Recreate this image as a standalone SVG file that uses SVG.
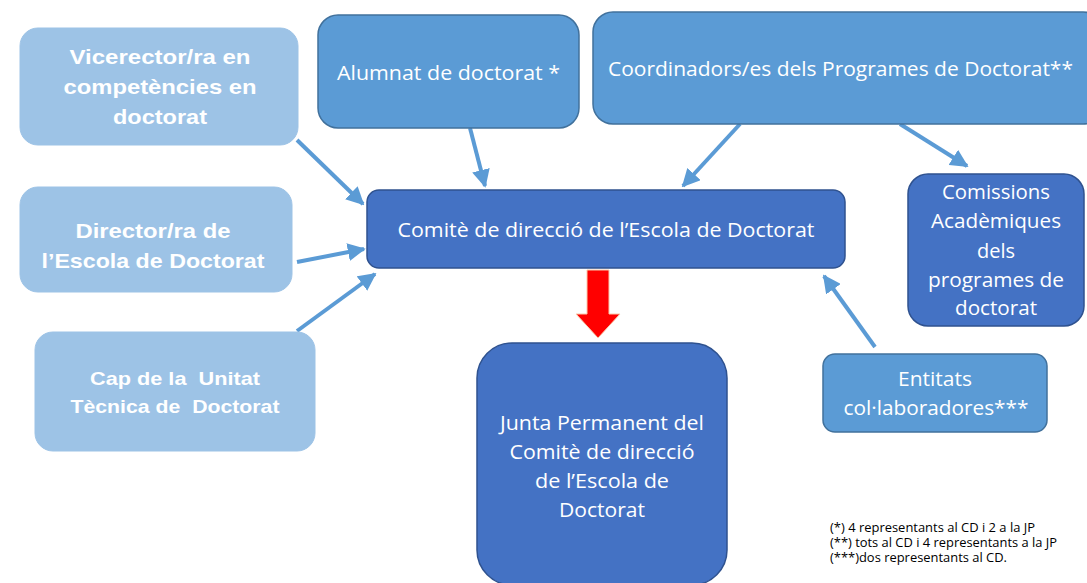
<svg xmlns="http://www.w3.org/2000/svg" width="1087" height="583" viewBox="0 0 1087 583">
<style>
.light{fill:#9DC3E6;stroke:#9DC3E6;stroke-width:1}
.mid{fill:#5B9BD5;stroke:#41719C;stroke-width:1.5}
.dark{fill:#4472C4;stroke:#2F528F;stroke-width:1.5}
.tb{font-family:"Liberation Sans",Arial,sans-serif;font-weight:bold;fill:#fff;text-anchor:middle;white-space:pre}
.t{font-family:"Open Sans","Liberation Sans",sans-serif;fill:#fff;text-anchor:middle}
.fn{font-family:"Open Sans","Liberation Sans",sans-serif;fill:#000;font-size:12.5px}
.conn{stroke:#5B9BD5;stroke-width:4;fill:none;marker-end:url(#ah)}
</style>
<defs>
<marker id="ah" viewBox="0 0 10 10" refX="9" refY="5" markerWidth="4.5" markerHeight="4.5" orient="auto" markerUnits="strokeWidth">
<path d="M0,0 L10,5 L0,10 z" fill="#5B9BD5"/>
</marker>
</defs>
<rect width="1087" height="583" fill="#fff"/>

<g id="connectors">
<line class="conn" x1="297" y1="140" x2="363" y2="204"/>
<line class="conn" x1="297" y1="262" x2="364" y2="249"/>
<line class="conn" x1="297" y1="331" x2="375" y2="274"/>
<line class="conn" x1="470" y1="128" x2="485" y2="186"/>
<line class="conn" x1="740" y1="124" x2="683" y2="186"/>
<line class="conn" x1="900" y1="124" x2="967" y2="166"/>
<line class="conn" x1="875" y1="347" x2="824" y2="276"/>
<path id="red-arrow" d="M587,270 L609,270 L609,314 L620,314 L598,338 L576,314 L587,314 z" fill="#FF0000" stroke="#F8CBAD" stroke-width="1"/>
</g>

<g id="vicerector">
<rect class="light" x="20" y="28" width="278" height="117" rx="18"/>
<text class="tb" font-size="21"><tspan x="160" y="64" textLength="181" lengthAdjust="spacingAndGlyphs">Vicerector/ra en</tspan><tspan x="160" y="94" textLength="193" lengthAdjust="spacingAndGlyphs">competències en</tspan><tspan x="160" y="124" textLength="94" lengthAdjust="spacingAndGlyphs">doctorat</tspan></text>
</g>

<g id="alumnat">
<rect class="mid" x="318" y="15" width="261" height="113" rx="20"/>
<text class="t" font-size="20" x="448.5" y="80" textLength="223" lengthAdjust="spacingAndGlyphs">Alumnat de doctorat *</text>
</g>

<g id="coordinadors">
<rect class="mid" x="593" y="12" width="510" height="112" rx="20"/>
<text class="t" font-size="20" x="840.5" y="76" textLength="465" lengthAdjust="spacingAndGlyphs">Coordinadors/es dels Programes de Doctorat**</text>
</g>

<g id="director">
<rect class="light" x="20" y="187" width="272" height="105" rx="18"/>
<text class="tb" font-size="21"><tspan x="153" y="238" textLength="155" lengthAdjust="spacingAndGlyphs">Director/ra de</tspan><tspan x="153" y="268" textLength="223" lengthAdjust="spacingAndGlyphs">l’Escola de Doctorat</tspan></text>
</g>

<g id="comite">
<rect class="dark" x="367" y="190" width="478" height="78" rx="12"/>
<text class="t" font-size="20" x="606" y="237" textLength="417" lengthAdjust="spacingAndGlyphs">Comitè de direcció de l’Escola de Doctorat</text>
</g>

<g id="comissions">
<rect class="dark" x="908" y="174" width="176" height="152" rx="20"/>
<text class="t" font-size="20"><tspan x="996" y="199" textLength="108" lengthAdjust="spacingAndGlyphs">Comissions</tspan><tspan x="996" y="228" textLength="130" lengthAdjust="spacingAndGlyphs">Acadèmiques</tspan><tspan x="996" y="258" textLength="38" lengthAdjust="spacingAndGlyphs">dels</tspan><tspan x="996" y="287" textLength="136" lengthAdjust="spacingAndGlyphs">programes de</tspan><tspan x="996" y="315" textLength="82" lengthAdjust="spacingAndGlyphs">doctorat</tspan></text>
</g>

<g id="cap">
<rect class="light" x="35" y="332" width="280" height="119" rx="18"/>
<text class="tb" font-size="19" xml:space="preserve"><tspan x="175" y="385" textLength="170" lengthAdjust="spacingAndGlyphs">Cap de la  Unitat</tspan><tspan x="175" y="413" textLength="209" lengthAdjust="spacingAndGlyphs">Tècnica de  Doctorat</tspan></text>
</g>

<g id="entitats">
<rect class="mid" x="823" y="354" width="224" height="78" rx="12"/>
<text class="t" font-size="20"><tspan x="935" y="386" textLength="74" lengthAdjust="spacingAndGlyphs">Entitats</tspan><tspan x="936" y="415" textLength="185" lengthAdjust="spacingAndGlyphs">col·laboradores***</tspan></text>
</g>

<g id="junta">
<rect class="dark" x="477" y="343" width="250" height="242" rx="35"/>
<text class="t" font-size="20"><tspan x="602" y="430" textLength="204" lengthAdjust="spacingAndGlyphs">Junta Permanent del</tspan><tspan x="602" y="459" textLength="185" lengthAdjust="spacingAndGlyphs">Comitè de direcció</tspan><tspan x="602" y="488" textLength="134" lengthAdjust="spacingAndGlyphs">de l’Escola de</tspan><tspan x="602" y="517" textLength="86" lengthAdjust="spacingAndGlyphs">Doctorat</tspan></text>
</g>

<g id="footnotes">
<text class="fn" x="830" y="532" textLength="205" lengthAdjust="spacingAndGlyphs">(*) 4 representants al CD i 2 a la JP</text>
<text class="fn" x="830" y="547" textLength="227" lengthAdjust="spacingAndGlyphs">(**) tots al CD i 4 representants a la JP</text>
<text class="fn" x="830" y="562" textLength="177" lengthAdjust="spacingAndGlyphs">(***)dos representants al CD.</text>
</g>
</svg>
